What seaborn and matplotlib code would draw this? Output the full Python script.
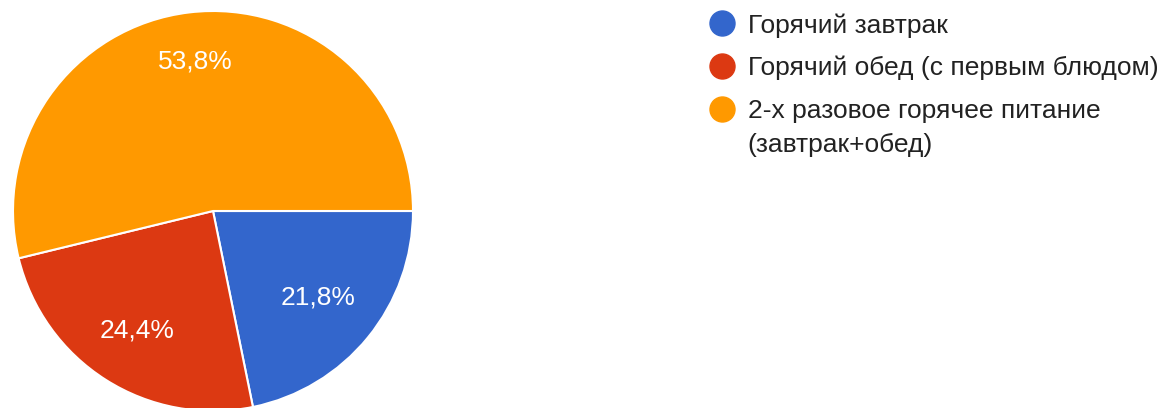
import numpy as np
import seaborn as sns
import matplotlib.pyplot as plt
from matplotlib.lines import Line2D

labels = ['Горячий завтрак',
          'Горячий обед (с первым блюдом)',
          '2-х разовое горячее питание\n(завтрак+обед)']
values = [21.8, 24.4, 53.8]
colors = ['#3366cc', '#dc3912', '#ff9900']
label_dist = [0.68, 0.71, 0.755]

sns.set_theme(style='white')
plt.rcParams['font.family'] = ['Liberation Sans', 'DejaVu Sans']

fig = plt.figure(figsize=(11.69, 4.08), dpi=100)
ax = fig.add_axes([13 / 1169, -3 / 408, 400 / 1169, 400 / 408])

wedges, texts, autotexts = ax.pie(values, colors=colors, startangle=0, counterclock=False,
                                  autopct=lambda p: f'{p:.1f}%'.replace('.', ','),
                                  pctdistance=0.71, radius=1.0,
                                  wedgeprops={'edgecolor': 'white', 'linewidth': 1.5},
                                  textprops={'color': 'white', 'fontsize': 19})
# move percent labels a bit along the mid angle of each slice
for w, t, d in zip(wedges, autotexts, label_dist):
    mid = np.deg2rad((w.theta1 + w.theta2) / 2)
    t.set_position((d * np.cos(mid), d * np.sin(mid)))
ax.set_xlim(-1, 1)
ax.set_ylim(-1, 1)
ax.set_aspect('equal')

handles = [Line2D([], [], linestyle='none', marker='o', markersize=18,
                  markerfacecolor=c, markeredgecolor=c) for c in colors]
leg = fig.legend(handles, labels, loc='upper left', bbox_to_anchor=(709.5 / 1169, 1 - 13 / 408),
                 frameon=False, fontsize=19, handlelength=0.95, handleheight=0.95,
                 handletextpad=0.5, labelspacing=0.70, borderpad=0, borderaxespad=0)
for t in leg.get_texts():
    t.set_color('#222222')
    t.set_linespacing(1.55)
# markers next to the first line of a wrapped label
for col in leg._legend_handle_box.get_children():
    for row in col.get_children():
        row.align = 'top'

fig.savefig('out.png', dpi=100, facecolor='white')
